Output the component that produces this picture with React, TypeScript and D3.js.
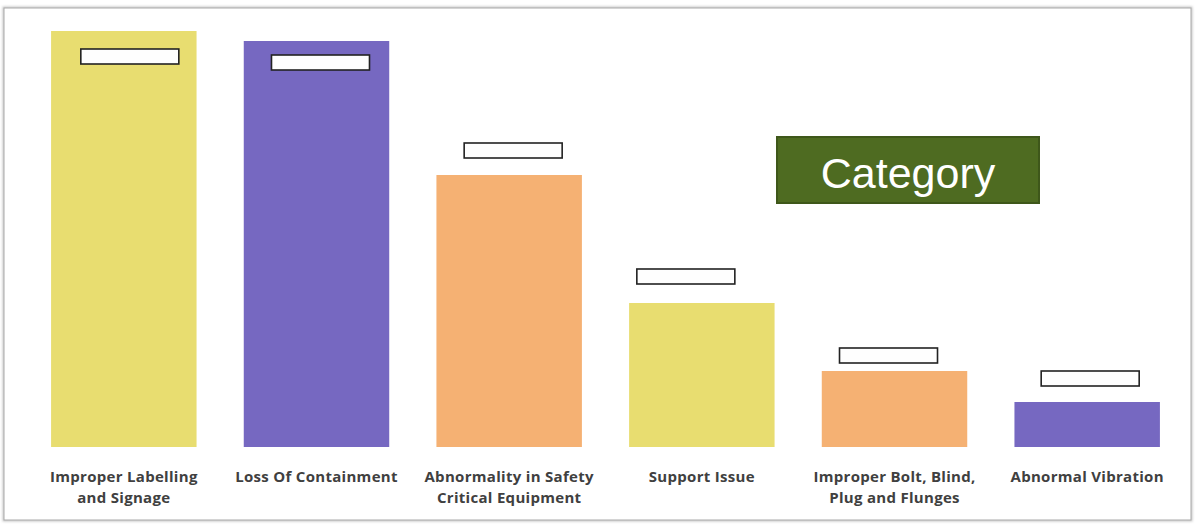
import React from "react";
import * as d3 from "d3";

const categories: string[][] = [
  ["Improper Labelling", "and Signage"],
  ["Loss Of Containment"],
  ["Abnormality in Safety", "Critical Equipment"],
  ["Support Issue"],
  ["Improper Bolt, Blind,", "Plug and Flunges"],
  ["Abnormal Vibration"],
];
const values: number[] = [416, 406, 272, 144, 76, 45];
const barColors: string[] = ["#E8DD70", "#7668C1", "#F5B173", "#E8DD70", "#F5B173", "#7668C1"];
// redacted value-label boxes: [dx from bar center, dy from bar top]
const labelOffsets: number[][] = [[6, 18], [4, 14], [4, -32], [-16, -34], [-6, -23], [3, -31]];

export default function App() {
  const W = 1198, H = 526;
  const x = d3.scaleBand<number>().domain(d3.range(categories.length)).range([27, 1184]).paddingInner(0.245).paddingOuter(0.125);
  const y = d3.scaleLinear().domain([0, 416]).range([447, 31]);
  const bw = x.bandwidth();
  return (
    <svg width={W} height={H} style={{ position: "absolute", left: 0, top: 0, background: "#fff" }}>
      <defs>
        <filter id="sh" x="-5%" y="-5%" width="110%" height="110%">
          <feGaussianBlur stdDeviation="1.2" />
        </filter>
      </defs>
      <rect x={4} y={8} width={1187} height={512} fill="none" stroke="#c8c8c8" strokeWidth={3} filter="url(#sh)" />
      <rect x={4} y={8} width={1187} height={512} fill="#fff" stroke="#a9a9a9" strokeWidth={1} />
      {values.map((v, i) => (
        <rect key={"b" + i} x={x(i)} y={y(v)} width={bw} height={y(0) - y(v)} fill={barColors[i]} />
      ))}
      {values.map((v, i) => {
        const cx = (x(i) as number) + bw / 2 + labelOffsets[i][0];
        return (
          <rect key={"l" + i} x={cx - 49} y={y(v) + labelOffsets[i][1]} width={98} height={15}
            fill="#fefefe" stroke="#222" strokeWidth={1.6} />
        );
      })}
      {categories.map((lines, i) => (
        <text key={"t" + i} x={(x(i) as number) + bw / 2} y={482} textAnchor="middle"
          fontFamily="'Open Sans', sans-serif" fontWeight={700} fontSize={15} fill="#404040"
          letterSpacing={0.3}>
          {lines.map((ln, j) => (
            <tspan key={j} x={(x(i) as number) + bw / 2} dy={j === 0 ? 0 : 21}>{ln}</tspan>
          ))}
        </text>
      ))}
      <rect x={777} y={137} width={262} height={66} fill="#4E6B21" stroke="#3E571A" strokeWidth={2} />
      <text x={908} y={188} textAnchor="middle" fontFamily="'Liberation Sans', Arial, sans-serif"
        fontSize={43} fill="#fff">Category</text>
    </svg>
  );
}
